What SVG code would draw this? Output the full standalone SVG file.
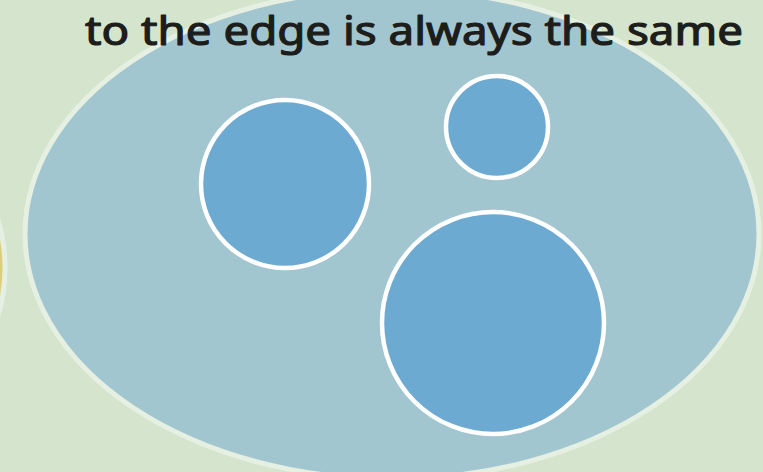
<svg xmlns="http://www.w3.org/2000/svg" width="763" height="472" viewBox="0 0 763 472">
<style>
.region{stroke:#e6f0e2;stroke-width:5}
.bubble{fill:#6caad2;stroke:#ffffff;stroke-width:4.5}
.title{font-family:"Comic Sans MS","Noto Sans","DejaVu Sans",sans-serif;font-size:40px;fill:#1d1d1b;stroke:#1d1d1b;stroke-width:1.2;stroke-linejoin:round}
</style>
<rect width="763" height="472" fill="#d4e4cd"/>
<g id="yellow-region"><ellipse class="region" cx="-361" cy="268" rx="366" ry="246" fill="#dccf7c"/></g>
<g id="big-region"><ellipse class="region" cx="392" cy="234" rx="367" ry="245" fill="#a2c6cf"/></g>
<g id="circle-a"><circle class="bubble" cx="285" cy="184" r="84"/></g>
<g id="circle-b"><circle class="bubble" cx="497" cy="127" r="51"/></g>
<g id="circle-c"><circle class="bubble" cx="493" cy="323" r="111"/></g>
<g id="connectors"></g>
<text class="title" x="85" y="45" textLength="658" lengthAdjust="spacingAndGlyphs">to the edge is always the same</text>
</svg>
